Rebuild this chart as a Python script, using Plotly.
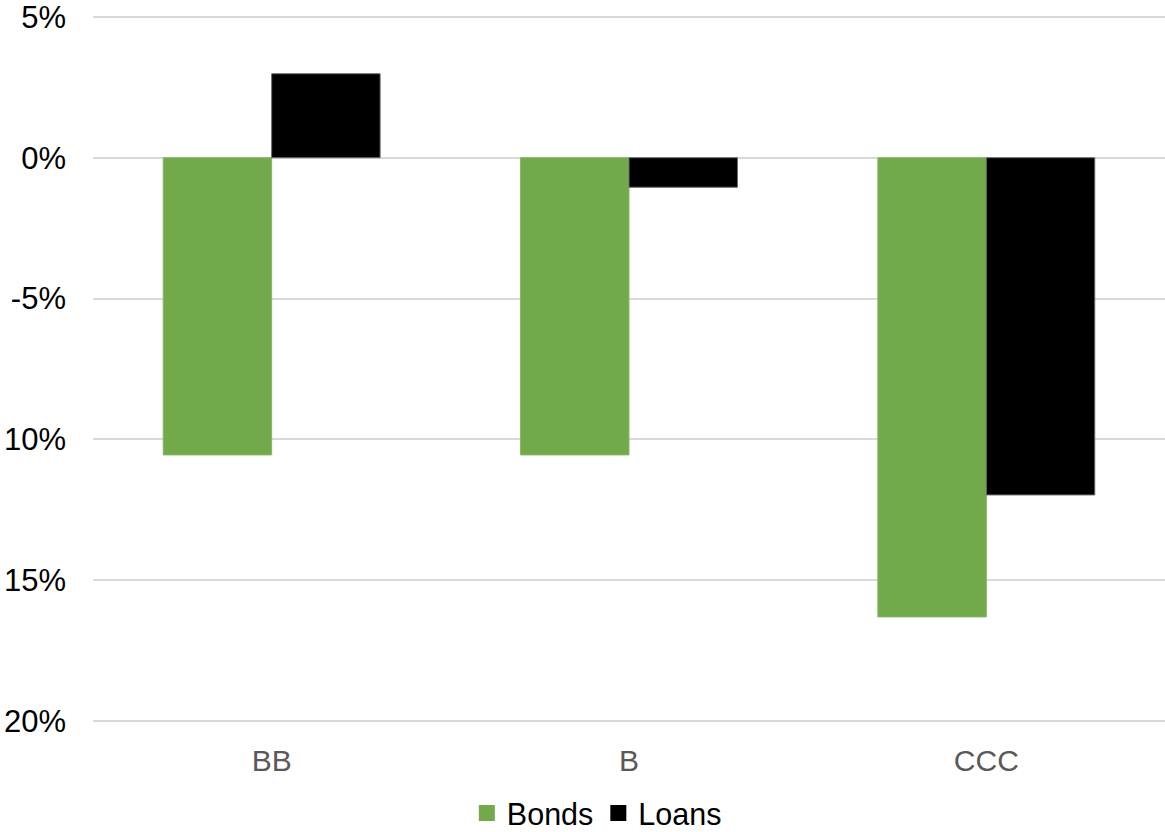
import plotly.graph_objects as go

categories = ["BB", "B", "CCC"]
bonds = [-10.55, -10.55, -16.3]
loans = [2.98, -1.05, -11.97]
tick_vals = [5, 0, -5, -10, -15, -20]
# tick labels as they appear in the reference (minus signs of the lower labels are cropped there)
tick_text = ["5%", "0%", "-5%", "10%", "15%", "20%"]

FONT = "Liberation Sans, Arial, sans-serif"
GREEN = "#72A94A"
BLACK = "#000000"

fig = go.Figure()
fig.add_trace(go.Bar(name="Bonds", x=categories, y=bonds, showlegend=False,
                     marker=dict(color=GREEN, line=dict(width=1, color="#86B864"))))
fig.add_trace(go.Bar(name="Loans", x=categories, y=loans, showlegend=False,
                     marker=dict(color=BLACK, line=dict(width=1, color="#6a6a6a"))))
# legend entries with larger square swatches
fig.add_trace(go.Scatter(name="Bonds", x=[None], y=[None], mode="markers",
                         marker=dict(symbol="square", size=16, color=GREEN)))
fig.add_trace(go.Scatter(name="Loans", x=[None], y=[None], mode="markers",
                         marker=dict(symbol="square", size=16, color=BLACK)))

fig.update_layout(
    width=1165, height=832,
    margin=dict(l=93, r=0, t=14, b=108, autoexpand=False),
    paper_bgcolor="white", plot_bgcolor="white",
    barmode="group", bargap=0.393, bargroupgap=0,
    font=dict(family=FONT, size=30, color="#000000"),
    showlegend=True,
    legend=dict(orientation="h", x=0.47, xanchor="center",
                y=-0.1255, yanchor="middle",
                font=dict(size=30.5, color="#000000"), itemwidth=30, tracegroupgap=0,
                bgcolor="rgba(0,0,0,0)"),
)
fig.update_yaxes(range=[-20.1, 5.1], tickvals=tick_vals, ticktext=tick_text,
                 showgrid=True, gridcolor="#D9D9D9", gridwidth=2,
                 zeroline=False, showline=False, ticks="", automargin=False,
                 ticklabeloverflow="allow",
                 ticklabelstandoff=26, tickfont=dict(size=31, color="#000000"))
fig.update_xaxes(categoryorder="array", categoryarray=categories,
                 showgrid=False, showline=False, ticks="", automargin=False,
                 ticklabelstandoff=16, tickfont=dict(size=30, color="#595959"))

fig.write_html("out.html")
